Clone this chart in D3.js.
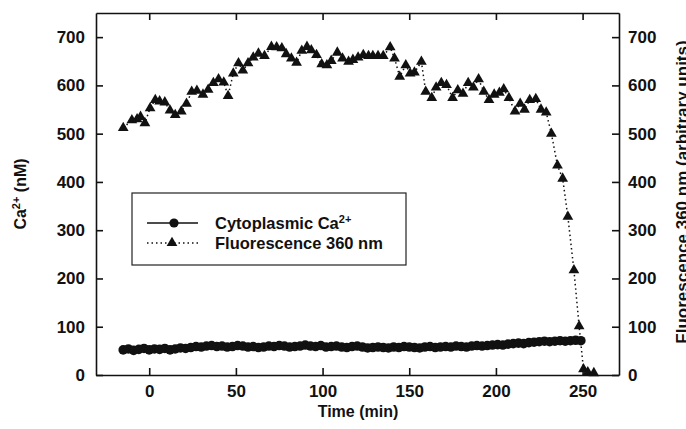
<!DOCTYPE html>
<html>
<head>
<meta charset="utf-8">
<script src="https://cdn.jsdelivr.net/npm/d3@7"></script>
<style>
  html, body { margin: 0; padding: 0; background: #fff; }
  svg { display: block; font-family: "Liberation Sans", Arial, Helvetica, sans-serif; }
</style>
</head>
<body>
<div id="chart"></div>
<script>
// ---- Data ----
// Cytoplasmic Ca2+ (nM), left axis
const caTime = [
  -15, -12, -9, -6, -3, 0, 3, 6, 9, 12,
  15, 18, 21, 24, 27, 30, 33, 36, 39, 42,
  45, 48, 51, 54, 57, 60, 63, 66, 69, 72,
  75, 78, 81, 84, 87, 90, 93, 96, 99, 102,
  105, 108, 111, 114, 117, 120, 123, 126, 129, 132,
  135, 138, 141, 144, 147, 150, 153, 156, 159, 162,
  165, 168, 171, 174, 177, 180, 183, 186, 189, 192,
  195, 198, 201, 204, 207, 210, 213, 216, 219, 222,
  225, 228, 231, 234, 237, 240, 243, 246, 249
];
const caValue = [
  52, 54, 51, 53, 55, 52, 54, 53, 55, 52,
  54, 56, 55, 57, 59, 58, 60, 61, 59, 60,
  58, 59, 61, 60, 58, 59, 57, 58, 60, 59,
  61, 60, 58, 59, 60, 62, 60, 59, 61, 58,
  59, 60, 58, 57, 59, 60, 58, 56, 57, 58,
  57, 56, 58, 57, 59, 58, 57, 56, 58, 59,
  57, 58, 59, 58, 60, 59, 58, 60, 61, 60,
  61, 62, 63, 62, 64, 65, 66, 65, 67, 68,
  69, 70, 69, 70, 71, 70, 71, 72, 71
];

// Fluorescence 360 nm (arbitrary units), right axis
const flTime = [
  -15, -10, -7, -5, -2.5, 0.5, 3.5, 6, 9, 12,
  15, 18.5, 21.5, 24.5, 27.5, 31, 34, 37, 40, 43,
  45.5, 48.5, 51.5, 54, 57, 60, 63, 66.5, 70.5, 73.5,
  76.5, 79, 82, 85, 88, 91, 93.5, 96.5, 99.5, 102.5,
  105, 108.5, 111.5, 115, 117.5, 120.5, 123.5, 126.5, 129, 132,
  135, 139, 141.5, 144.5, 148, 150.5, 153, 157, 159.5, 163,
  165.5, 168.5, 171.5, 175, 178, 181, 184, 187, 190, 193,
  196, 199, 202, 204.5, 207.5, 211, 214, 216.5, 219.5, 223,
  226, 229, 232, 235.5, 238.5, 241.5, 245, 248, 250.5, 253,
  256.5
];
const flValue = [
  512, 528, 530, 535, 522, 553, 570, 567, 565, 548,
  539, 546, 562, 587, 589, 581, 591, 605, 613, 606,
  578, 625, 646, 631, 646, 658, 666, 661, 680, 679,
  677, 665, 656, 647, 672, 680, 673, 663, 644, 642,
  651, 668, 656, 649, 653, 658, 663, 661, 661, 661,
  661, 679, 656, 618, 642, 625, 627, 649, 587, 574,
  596, 605, 601, 574, 590, 583, 605, 596, 613, 587,
  570, 581, 585, 592, 574, 546, 562, 550, 570, 572,
  550, 544, 500, 434, 407, 328, 217, 101, 12, 6,
  4
];

const xTicks = [0, 50, 100, 150, 200, 250];
const yTicks = [0, 100, 200, 300, 400, 500, 600, 700];

// ---- Layout ----
const W = 686, H = 429;
const plot = { left: 96, right: 619, top: 13, bottom: 375 };

const svg = d3.select('#chart').append('svg')
  .attr('width', W).attr('height', H);

const x = d3.scaleLinear().domain([-30.7, 271]).range([plot.left, plot.right]);
const yL = d3.scaleLinear().domain([0, 750]).range([plot.bottom, plot.top]);
const yR = d3.scaleLinear().domain([0, 750]).range([plot.bottom, plot.top]);

const tickFont = '17px';

// ---- Axes (ticks point inward) ----
svg.append('g')
  .attr('transform', `translate(0,${plot.bottom})`)
  .call(d3.axisBottom(x).tickValues(xTicks).tickSize(-7).tickPadding(10).tickSizeOuter(0))
  .call(g => g.selectAll('text').attr('font-size', tickFont).attr('font-weight', 'bold'));

svg.append('g')
  .attr('transform', `translate(0,${plot.top})`)
  .call(d3.axisTop(x).tickValues(xTicks).tickSize(-7).tickFormat('').tickSizeOuter(0));

svg.append('g')
  .attr('transform', `translate(${plot.left},0)`)
  .call(d3.axisLeft(yL).tickValues(yTicks).tickSize(-7).tickPadding(11).tickSizeOuter(0))
  .call(g => g.selectAll('text').attr('font-size', tickFont).attr('font-weight', 'bold'));

svg.append('g')
  .attr('transform', `translate(${plot.right},0)`)
  .call(d3.axisRight(yR).tickValues(yTicks).tickSize(-7).tickPadding(9).tickSizeOuter(0))
  .call(g => g.selectAll('text').attr('font-size', tickFont).attr('font-weight', 'bold'));

svg.selectAll('.domain, .tick line').attr('stroke', '#111').attr('stroke-width', 1.6);
svg.selectAll('.tick text').attr('fill', '#111');

// ---- Axis titles ----
svg.append('text')
  .attr('x', 358).attr('y', 417)
  .attr('text-anchor', 'middle')
  .attr('font-size', '16px').attr('font-weight', 'bold').attr('fill', '#111')
  .text('Time (min)');

const leftTitle = svg.append('text')
  .attr('transform', 'translate(26,194) rotate(-90)')
  .attr('text-anchor', 'middle')
  .attr('font-size', '16px').attr('font-weight', 'bold').attr('fill', '#111');
leftTitle.append('tspan').text('Ca');
leftTitle.append('tspan').attr('font-size', '11px').attr('dy', -6).text('2+');
leftTitle.append('tspan').attr('dy', 6).text(' (nM)');

svg.append('text')
  .attr('transform', 'translate(688,192) rotate(-90)')
  .attr('text-anchor', 'middle')
  .attr('font-size', '17px').attr('font-weight', 'bold').attr('fill', '#111')
  .text('Fluorescence 360 nm (arbitrary units)');

// ---- Fluorescence series: dotted line + triangles ----
const fl = flTime.map((t, i) => [t, flValue[i]]);
const ca = caTime.map((t, i) => [t, caValue[i]]);

svg.append('path')
  .datum(fl)
  .attr('d', d3.line().x(d => x(d[0])).y(d => yR(d[1])))
  .attr('fill', 'none')
  .attr('stroke', '#111')
  .attr('stroke-width', 1.5)
  .attr('stroke-dasharray', '1.5 3');

const tri = d3.symbol().type(d3.symbolTriangle).size(50);
svg.append('g').selectAll('path')
  .data(fl).join('path')
  .attr('transform', d => `translate(${x(d[0])},${yR(d[1])})`)
  .attr('d', tri)
  .attr('fill', '#111');

// ---- Ca2+ series: solid line + filled circles ----
svg.append('path')
  .datum(ca)
  .attr('d', d3.line().x(d => x(d[0])).y(d => yL(d[1])))
  .attr('fill', 'none')
  .attr('stroke', '#111')
  .attr('stroke-width', 1.5);

svg.append('g').selectAll('circle')
  .data(ca).join('circle')
  .attr('cx', d => x(d[0]))
  .attr('cy', d => yL(d[1]))
  .attr('r', 4.8)
  .attr('fill', '#111');

// ---- Legend ----
const lg = svg.append('g');
lg.append('rect')
  .attr('x', 132).attr('y', 193).attr('width', 274).attr('height', 72)
  .attr('fill', '#fff').attr('stroke', '#222').attr('stroke-width', 1.2);

lg.append('line')
  .attr('x1', 147).attr('x2', 198).attr('y1', 223).attr('y2', 223)
  .attr('stroke', '#111').attr('stroke-width', 1.5);
lg.append('circle').attr('cx', 174).attr('cy', 223).attr('r', 4.6).attr('fill', '#111');

lg.append('line')
  .attr('x1', 147).attr('x2', 198).attr('y1', 243).attr('y2', 243)
  .attr('stroke', '#111').attr('stroke-width', 1.5)
  .attr('stroke-dasharray', '1.5 3');
lg.append('path')
  .attr('transform', 'translate(172,243)')
  .attr('d', tri).attr('fill', '#111');

const t1 = lg.append('text')
  .attr('x', 215).attr('y', 229)
  .attr('font-size', '16.5px').attr('font-weight', 'bold').attr('fill', '#111');
t1.append('tspan').text('Cytoplasmic Ca');
t1.append('tspan').attr('font-size', '11px').attr('dy', -6).text('2+');

lg.append('text')
  .attr('x', 215).attr('y', 249)
  .attr('font-size', '16.5px').attr('font-weight', 'bold').attr('fill', '#111')
  .text('Fluorescence 360 nm');
</script>
</body>
</html>
